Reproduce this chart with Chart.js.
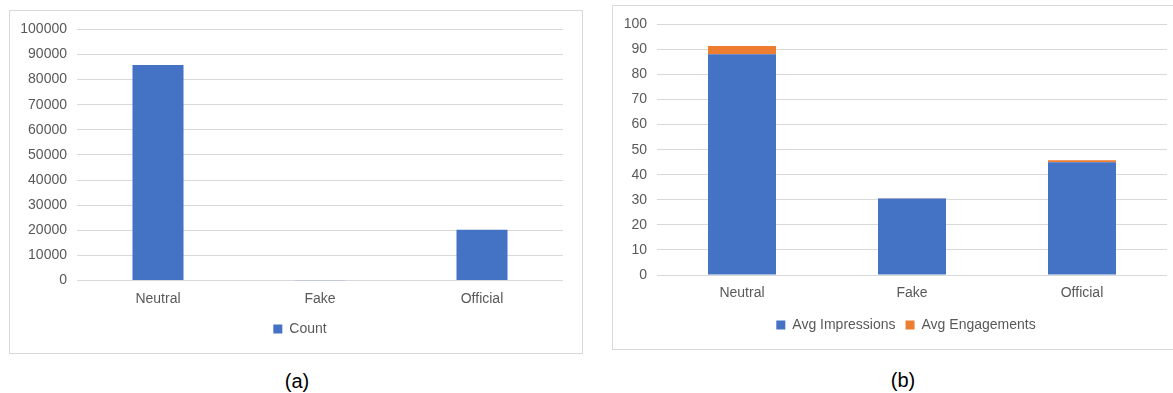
<!DOCTYPE html>
<html>
<head>
<meta charset="utf-8">
<script src="https://cdn.jsdelivr.net/npm/chart.js@4.4.1/dist/chart.umd.min.js"></script>
<style>
    html, body { margin: 0; padding: 0; background: #fff; overflow: hidden; }
    body { width: 1173px; height: 393px; position: relative; font-family: "Liberation Sans", Arial, sans-serif; }
    .panel { position: absolute; border: 1px solid #d9d9d9; background: #fff; }
    .panel canvas { display: block; }
    .caption { position: absolute; font-size: 20px; color: #000; transform: translate(-50%, -50%); white-space: nowrap; }
</style>
</head>
<body>
<div class="panel" style="left:9px; top:10px; width:572px; height:342px;">
    <canvas id="countChart" width="572" height="342"></canvas>
</div>
<div class="panel" style="left:612px; top:5px; width:584px; height:343px;">
    <canvas id="avgChart" width="584" height="343"></canvas>
</div>
<div class="caption" style="left:297px; top:381px;">(a)</div>
<div class="caption" style="left:903px; top:380px;">(b)</div>

<script>
// --- account types and their numbers ---
const categories = ['Neutral', 'Fake', 'Official'];

const countValues = [85800, 80, 20200];
const countTicks = { min: 0, max: 100000, step: 10000 };

const avgImpressions = [88.1, 30.5, 45.0];
const avgEngagements = [3.3, 0.1, 0.8];
const avgTicks = { min: 0, max: 100, step: 10 };

const BLUE = '#4472C4';
const ORANGE = '#ED7D31';
const TEXT_GREY = '#595959';
const GRID_GREY = '#d9d9d9';

Chart.defaults.font.family = '"Liberation Sans", Arial, sans-serif';
Chart.defaults.font.size = 14;
Chart.defaults.color = TEXT_GREY;
Chart.defaults.animation = false;

// nudges the bottom legend sideways so it sits under the middle of the panel
const legendShift = {
    id: 'legendShift',
    afterLayout(chart, args, opts) {
        const dx = opts.dx || 0;
        chart.legend.left += dx;
        chart.legend.right += dx;
    }
};

function buildOptions(ticks, yWidth, xHeight, padding, stacked, dx) {
    return {
        responsive: false,
        maintainAspectRatio: false,
        layout: { padding: padding },
        scales: {
            x: {
                stacked: stacked,
                grid: { display: false, drawTicks: false },
                border: { display: false },
                ticks: { padding: 10, color: TEXT_GREY },
                afterFit: scale => { scale.height = xHeight; }
            },
            y: {
                stacked: stacked,
                min: ticks.min,
                max: ticks.max,
                grid: { color: GRID_GREY, lineWidth: 1, drawTicks: false },
                border: { display: false },
                ticks: {
                    stepSize: ticks.step,
                    padding: 10,
                    color: TEXT_GREY,
                    callback: v => String(v)
                },
                afterFit: scale => { scale.width = yWidth; }
            }
        },
        plugins: {
            legend: {
                position: 'bottom',
                labels: { boxWidth: 9, boxHeight: 9, padding: 10, color: TEXT_GREY }
            },
            legendShift: { dx: dx },
            tooltip: { enabled: false }
        }
    };
}

new Chart(document.getElementById('countChart'), {
    type: 'bar',
    data: {
        labels: categories,
        datasets: [{
            label: 'Count',
            data: countValues,
            backgroundColor: BLUE,
            categoryPercentage: 1,
            barPercentage: 0.315
        }]
    },
    options: buildOptions(countTicks, 67, 31.5, { left: 0, top: 16, right: 19, bottom: 7 }, false, 13.5),
    plugins: [legendShift]
});

new Chart(document.getElementById('avgChart'), {
    type: 'bar',
    data: {
        labels: categories,
        datasets: [
            {
                label: 'Avg Impressions',
                data: avgImpressions,
                backgroundColor: BLUE,
                categoryPercentage: 1,
                barPercentage: 0.4
            },
            {
                label: 'Avg Engagements',
                data: avgEngagements,
                backgroundColor: ORANGE,
                categoryPercentage: 1,
                barPercentage: 0.4
            }
        ]
    },
    options: buildOptions(avgTicks, 44, 33, { left: 0, top: 17, right: 30, bottom: 7 }, true, 16),
    plugins: [legendShift]
});
</script>
</body>
</html>
